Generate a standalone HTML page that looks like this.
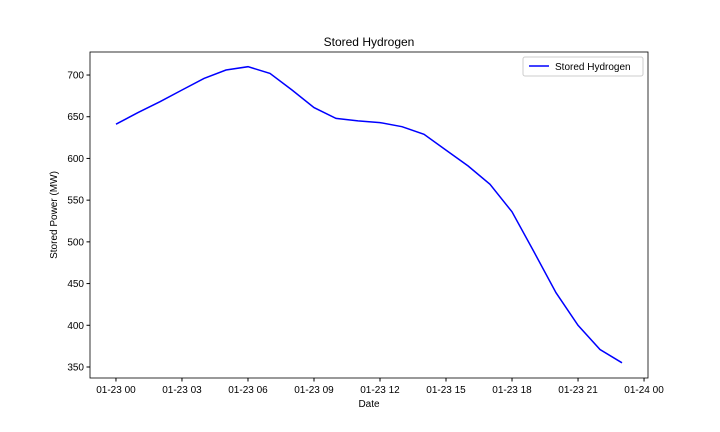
<!DOCTYPE html>
<html><head><meta charset="utf-8"><style>
body{margin:0;background:#fff;}
svg{display:block;font-family:"Liberation Sans","DejaVu Sans",sans-serif;}
</style></head><body>
<svg id="chart" width="720" height="432">
<rect x="0" y="0" width="720" height="432" fill="#fff"></rect>
<text x="369" y="46" text-anchor="middle" font-size="12">Stored Hydrogen</text>
<g id="xticks"></g>
<g id="yticks"></g>
<path id="line" fill="none" stroke="#0000ff" stroke-width="1.5"></path>
<rect x="90" y="52" width="558" height="326" fill="none" stroke="#000" stroke-width="0.8"></rect>
<text x="369" y="407" text-anchor="middle" font-size="10">Date</text>
<text transform="translate(57,215) rotate(-90)" text-anchor="middle" font-size="10">Stored Power (MW)</text>
<g>
<rect x="523" y="57" width="120" height="19" fill="#fff" stroke="#ccc" rx="2"></rect>
<line x1="529" y1="66" x2="549" y2="66" stroke="#0000ff" stroke-width="1.5"></line>
<text x="555" y="70" font-size="10">Stored Hydrogen</text>
</g>
</svg>
<script>
const hours = [0,1,2,3,4,5,6,7,8,9,10,11,12,13,14,15,16,17,18,19,20,21,22,23];
const stored = [641,655,668,682,696,706,710,702,682,661,648,645,643,638,629,610,591,569,536,488,439,400,371,355];
const xTickHours = [0,3,6,9,12,15,18,21,24];
const xTickLabels = ["01-23 00","01-23 03","01-23 06","01-23 09","01-23 12","01-23 15","01-23 18","01-23 21","01-24 00"];
const yTicks = [350,400,450,500,550,600,650,700];

const X0=90,X1=648,Y0=378,Y1=52;
const xMin=-1.18,xMax=24.18,yMin=336.8,yMax=727.6;
function xs(h){return X0+(h-xMin)/(xMax-xMin)*(X1-X0);}
function ys(v){return Y0-(v-yMin)/(yMax-yMin)*(Y0-Y1);}
const NS="http://www.w3.org/2000/svg";
const xg=document.getElementById('xticks'), yg=document.getElementById('yticks');
xTickHours.forEach((h,i)=>{
  const x=xs(h);
  const l=document.createElementNS(NS,'line');
  l.setAttribute('x1',x);l.setAttribute('x2',x);l.setAttribute('y1',Y0);l.setAttribute('y2',Y0+3.5);l.setAttribute('stroke','#000');
  
  
  xg.appendChild(l);
  const t=document.createElementNS(NS,'text');
  t.setAttribute('x',x);t.setAttribute('y',Y0+15);t.setAttribute('text-anchor','middle');t.setAttribute('font-size','10');
  t.textContent=xTickLabels[i];
  
  
  xg.appendChild(t);
});
yTicks.forEach(v=>{
  const y=ys(v);
  const l=document.createElementNS(NS,'line');
  l.setAttribute('x1',X0-3.5);l.setAttribute('x2',X0);l.setAttribute('y1',y);l.setAttribute('y2',y);l.setAttribute('stroke','#000');
  
  
  yg.appendChild(l);
  const t=document.createElementNS(NS,'text');
  t.setAttribute('x',X0-6);t.setAttribute('y',y+3.5);t.setAttribute('text-anchor','end');t.setAttribute('font-size','10');
  t.textContent=v;
  
  
  yg.appendChild(t);
});
document.getElementById('line').setAttribute('d',hours.map((h,i)=>(i?'L':'M')+xs(h).toFixed(1)+','+ys(stored[i]).toFixed(1)).join(''));
</script>
</body></html>
